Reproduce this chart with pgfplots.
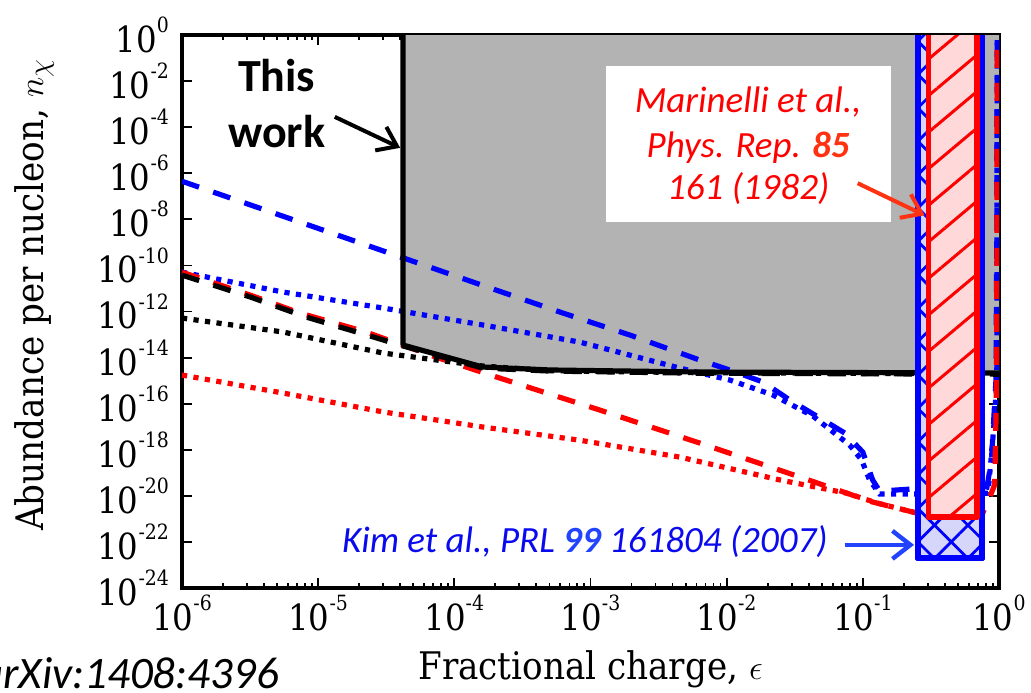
\documentclass[border=0pt]{standalone}
\usepackage{fontspec}
\setmainfont{DejaVu Serif Condensed}
\newfontfamily\calib{Carlito}
\usepackage{pgfplots}
\pgfplotsset{compat=1.18}
\usetikzlibrary{patterns.meta,arrows.meta}

\definecolor{grayfill}{HTML}{B3B3B3}
\definecolor{bandblue}{HTML}{D6D6FA}
\definecolor{bandred}{HTML}{FFD9D9}
\definecolor{arrowred}{HTML}{FF3311}
\definecolor{kimblue}{HTML}{0A0AEE}
\definecolor{kimbold}{HTML}{2244FF}

% exponent of a power-of-ten tick label
\newcommand\ex[1]{\raisebox{0.55em}{\fontsize{10.5}{10.5}\selectfont #1}}

\begin{document}
\begin{tikzpicture}
\useasboundingbox (-91pt,-52pt) rectangle (424.5pt,294pt);
\begin{axis}[
  at={(0,0)}, anchor=south west,
  scale only axis, width=408.5pt, height=276.5pt,
  xmode=log, ymode=log,
  xmin=1e-6, xmax=1, ymin=1e-24, ymax=1,
  axis line style={line width=1.75pt},
  tick align=inside,
  major tick length=5pt, minor tick length=2.5pt,
  every tick/.style={black, line width=0.9pt},
  yminorticks=false,
  xtick={1e-6,1e-5,1e-4,1e-3,1e-2,1e-1,1},
  xticklabels={10\ex{-6},10\ex{-5},10\ex{-4},10\ex{-3},10\ex{-2},10\ex{-1},10\ex{0}},
  ytick={1e-24,1e-22,1e-20,1e-18,1e-16,1e-14,1e-12,1e-10,1e-8,1e-6,1e-4,1e-2,1},
  yticklabels={10\ex{-24},10\ex{-22},10\ex{-20},10\ex{-18},10\ex{-16},10\ex{-14},10\ex{-12},10\ex{-10},10\ex{-8},10\ex{-6},10\ex{-4},10\ex{-2},10\ex{0}},
  ticklabel style={font=\fontsize{18}{20}\selectfont},
  yticklabel style={xshift=-3pt},
  xlabel={Fractional charge, $\epsilon$},
  ylabel={Abundance per nucleon, $n_\chi$},
  label style={font=\fontsize{19}{22}\selectfont},
  xlabel style={at={(axis description cs:0.5,-0.166)}, anchor=base},
  ylabel style={at={(axis description cs:-0.170,0.53)}, anchor=base},
]

% excluded region of this work
\addplot[fill=grayfill, draw=none] coordinates {
  (4.2e-5,1) (4.2e-5,3.5e-14) (1.62e-4,3.9e-15) (5.04e-4,2.9e-15)
  (6.35e-3,2.36e-15) (1,2.14e-15) (1,1) (4.2e-5,1)};

\fill[white] (rel axis cs:0.519,0.662) rectangle (rel axis cs:0.868,0.944);

% blue dashed
\addplot[blue, line width=2.6pt, dash pattern=on 9pt off 7.5pt] coordinates {
  (1e-6,4.5e-7) (1.2e-6,3.1e-7) (1.14e-5,3.1e-9) (1.37e-4,1.9e-11)
  (6.26e-4,8.6e-13) (1.95e-3,9.5e-14) (6.35e-3,7.8e-15) (1.11e-2,2.6e-15)
  (1.85e-2,8.7e-16) (2.91e-2,1.44e-16) (4.83e-2,2.4e-17) (7.38e-2,5.3e-18)
  (0.1,7.9e-19) (0.118,4.9e-20) (0.133,1.6e-20) (0.233,2.0e-20)
  (0.80,1.2e-20) (0.88,3.5e-19) (0.95,1.1e-15) (0.965,1e-8) (0.97,1)};

% blue dotted
\addplot[blue, line width=2.6pt, dash pattern=on 2.6pt off 3.2pt] coordinates {
  (1e-6,5.1e-11) (5.52e-6,7.0e-12) (2.99e-5,1.42e-12) (1.62e-4,2.6e-13)
  (8.35e-4,4.7e-14) (4.53e-3,3.5e-15) (1.05e-2,1.07e-15) (2.18e-2,2.4e-16)
  (4.3e-2,2.9e-17) (8.0e-2,1.6e-18) (9.8e-2,3.6e-19) (0.112,4.9e-20)
  (0.133,1.2e-20) (0.233,1.2e-20)
  (0.83,1.3e-20) (0.90,2.6e-18) (0.964,8e-16) (0.97,1)};

% red dashed
\addplot[red, line width=2.6pt, dash pattern=on 9pt off 7.5pt] coordinates {
  (1e-6,5.1e-11) (3.16e-6,5.2e-12) (7.34e-6,8.6e-13) (2.24e-5,1.29e-13)
  (7.33e-5,1.05e-14) (2.16e-4,1.29e-15) (1.17e-3,5.3e-17) (6.35e-3,1.95e-18)
  (3.44e-2,6.6e-20) (0.118,5.4e-21) (0.249,1.8e-21)
  (0.76,1.8e-21) (0.855,8.9e-21) (0.93,3e-20) (0.955,1e-16) (0.965,1e-10) (0.97,1)};

% red dotted
\addplot[red, line width=2.6pt, dash pattern=on 2.6pt off 3.2pt] coordinates {
  (1e-6,1.75e-15) (5.52e-6,2.9e-16) (2.99e-5,4.4e-17) (1.62e-4,9.7e-18)
  (8.35e-4,2.6e-18) (4.53e-3,4.8e-19) (2.46e-2,4.9e-20) (7.64e-2,1.3e-20)
  (0.127,4.9e-21) (0.249,1.8e-21)};

% black dashed
\addplot[black, line width=2.6pt, dash pattern=on 9pt off 7.5pt] coordinates {
  (1e-6,3.8e-11) (3.16e-6,4.3e-12) (8.13e-6,5.8e-13) (1.45e-5,2.1e-13)
  (2.40e-5,8.7e-14) (4.2e-5,3.2e-14) (1.62e-4,3.5e-15) (5.04e-4,2.6e-15)
  (6.35e-3,2.1e-15) (1,1.9e-15)};

% black dotted
\addplot[black, line width=2.6pt, dash pattern=on 2.6pt off 3.2pt] coordinates {
  (1e-6,5.2e-13) (5.52e-6,1.29e-13) (2.99e-5,1.58e-14) (1.62e-4,4.3e-15)
  (5.04e-4,2.7e-15) (6.35e-3,2.2e-15) (1,1.95e-15)};

% limit of this work
\addplot[black, line width=2.6pt, line join=round] coordinates {
  (4.2e-5,10) (4.2e-5,3.5e-14) (1.62e-4,3.9e-15) (5.04e-4,2.9e-15)
  (6.35e-3,2.36e-15) (1,2.14e-15)};

% Kim et al. band
\addplot[draw=blue, line width=3pt, line join=round,
  preaction={fill=bandblue},
  preaction={pattern={Lines[angle=45,distance=11.8pt,line width=1.4pt]}, pattern color=blue},
  pattern={Lines[angle=-45,distance=11.8pt,line width=1.4pt]}, pattern color=blue]
  coordinates {(0.2535,100) (0.2535,2.0e-23) (0.753,2.0e-23) (0.753,100)};

% Marinelli et al. band
\addplot[draw=red, line width=2.8pt, line join=round,
  preaction={fill=bandred},
  pattern={Lines[angle=40,distance=14pt,line width=1.5pt]}, pattern color=red]
  coordinates {(0.303,100) (0.303,1.2e-21) (0.687,1.2e-21) (0.687,100)};

% annotations
\node[font=\calib\bfseries\fontsize{23}{26}\selectfont, anchor=base]
  at (rel axis cs:0.116,0.897) {This};
\node[font=\calib\bfseries\fontsize{23}{26}\selectfont, anchor=base]
  at (rel axis cs:0.116,0.797) {work};
\draw[black, line width=2pt, -{Straight Barb[length=9pt,width=13pt,line width=2pt]}]
  (rel axis cs:0.187,0.852) -- (rel axis cs:0.267,0.796);

\node[red, font=\calib\itshape\fontsize{18.5}{20}\selectfont, anchor=base]
  at (rel axis cs:0.693,0.859) {Marinelli et al.,};
\node[red, font=\calib\itshape\fontsize{18.5}{20}\selectfont, anchor=base]
  at (rel axis cs:0.693,0.779) {Phys. Rep. \textcolor{arrowred}{\bfseries 85}};
\node[red, font=\calib\itshape\fontsize{18.5}{20}\selectfont, anchor=base]
  at (rel axis cs:0.693,0.702) {161 (1982)};
\draw[arrowred, line width=2pt, -{Straight Barb[length=9pt,width=13pt,line width=2pt]}]
  (rel axis cs:0.827,0.732) -- (rel axis cs:0.909,0.674);

\node[kimblue, font=\calib\itshape\fontsize{18.5}{20}\selectfont, anchor=base]
  at (rel axis cs:0.493,0.065) {Kim et al., PRL \textcolor{kimbold}{\bfseries 99} 161804 (2007)};
\draw[kimbold, line width=2.2pt, -{Straight Barb[length=9pt,width=14pt,line width=2.2pt]}]
  (rel axis cs:0.811,0.078) -- (rel axis cs:0.896,0.078);

\end{axis}
\node[font=\calib\itshape\fontsize{22.5}{24}\selectfont, anchor=base east]
  at (52pt,-50pt) {arXiv:1408:4396};
\end{tikzpicture}
\end{document}
